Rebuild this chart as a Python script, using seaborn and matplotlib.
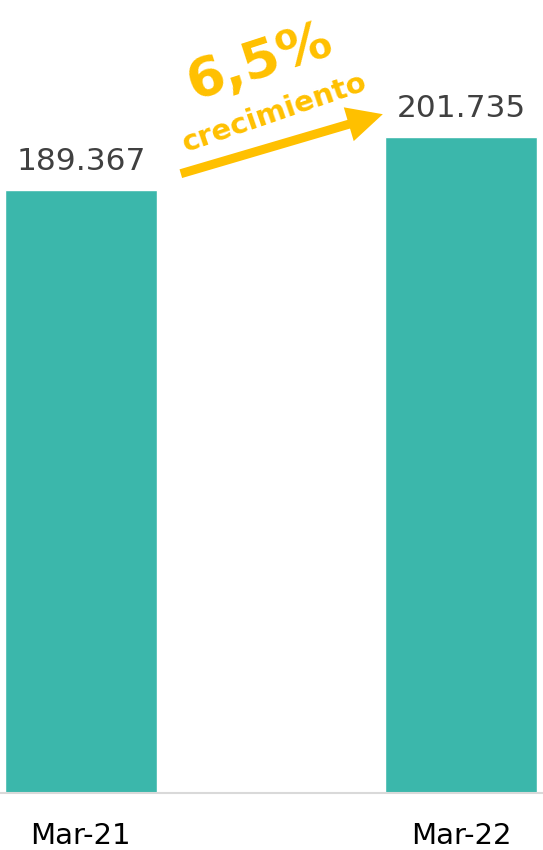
import numpy as np
import pandas as pd
import seaborn as sns
import matplotlib.pyplot as plt

# data
periods = ["Mar-21", "Mar-22"]
clients = [189367, 201735]
growth_label = "6,5%"

teal = "#3BB7AB"
gold = "#FFC000"

sns.set_theme(style="white")
plt.rcParams['font.family'] = ['DejaVu Sans']

df = pd.DataFrame({"periodo": periods, "valor": clients})

fig = plt.figure(figsize=(5.43, 8.5), dpi=100)
ax = fig.add_axes([0, 0.067, 1, 0.933])
sns.barplot(data=df, x="periodo", y="valor", color=teal, width=0.4, saturation=1, ax=ax)

ax.set_xlim(-0.213, 1.216)
ax.set_ylim(48700, 233700)
ax.set_xlabel("")
ax.set_ylabel("")
ax.set_yticks([])
for s in ["top", "left", "right"]:
    ax.spines[s].set_visible(False)
ax.spines["bottom"].set_color("#D9D9D9")
ax.spines["bottom"].set_linewidth(1.5)
ax.tick_params(axis="x", length=0, pad=21, labelsize=21, labelcolor="black")

# value labels
for i, v in enumerate(clients):
    ax.annotate(f"{v:,}".replace(",", "."), (i, v), xytext=(0, 10), textcoords="offset points",
                ha="center", va="bottom", fontsize=22.5, color="#404040")

# growth arrow
ax.annotate("", xy=(0.705, 0.856), xytext=(0.333, 0.781), xycoords="axes fraction",
            arrowprops=dict(arrowstyle="-|>,head_length=1.25,head_width=0.62", color=gold, lw=6.5,
                            shrinkA=0, shrinkB=0, capstyle="butt", joinstyle="miter"))
ax.text(0.478, 0.922, growth_label, transform=ax.transAxes, rotation=18, ha="center", va="center",
        fontsize=39, fontweight="bold", color=gold, rotation_mode="anchor")
ax.text(0.505, 0.858, "crecimiento", transform=ax.transAxes, rotation=19, ha="center", va="center",
        fontsize=21, fontweight="bold", color=gold, rotation_mode="anchor")

fig.savefig("out.png", dpi=100)
